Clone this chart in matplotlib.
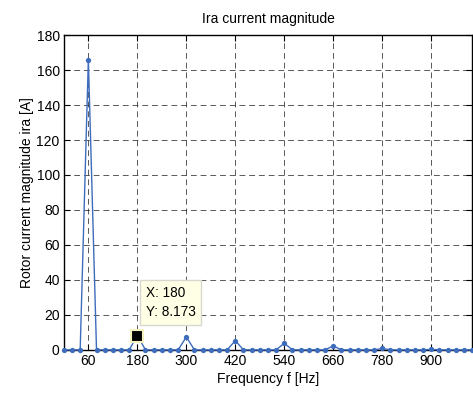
import numpy as np
import matplotlib.pyplot as plt

plt.rcParams['font.family'] = ['Liberation Sans', 'DejaVu Sans']

# FFT bins every 20 Hz, 0..1000 Hz
freq = list(range(0, 1001, 20))
harm_f = [60, 180, 300, 420, 540, 660, 780, 900]
harm_a = [166.0, 8.173, 7.4, 5.3, 3.8, 2.3, 0.8, 0.3]
mag = [0.0] * len(freq)
for f, a in zip(harm_f, harm_a):
    mag[freq.index(f)] = a

xticks = [60, 180, 300, 420, 540, 660, 780, 900]
yticks = [0, 20, 40, 60, 80, 100, 120, 140, 160, 180]
tip_x, tip_y = 180, 8.173

fig = plt.figure(figsize=(4.73, 3.94), dpi=100)
ax = fig.add_axes([0.135, 0.112, 0.863, 0.799])

ax.plot(freq, mag, color='#3d6cbd', linewidth=1.0, marker='o', markersize=3.8,
        markeredgewidth=0, zorder=3, clip_on=False)

# data cursor
ax.plot(tip_x, tip_y, marker='s', markersize=8, color='black',
        markeredgecolor='#f5f0c0', markeredgewidth=1.5, zorder=5)
ax.annotate('X: 180\nY: 8.173', xy=(tip_x, tip_y), xytext=(6, 12),
            textcoords='offset points', fontsize=9.8, va='bottom', ha='left',
            linespacing=1.45,
            bbox=dict(boxstyle='square,pad=0.42', fc='#ffffe6', ec='#d8d8d0', lw=1),
            zorder=6)

ax.set_xlim(0, 1000)
ax.set_ylim(0, 180)
ax.set_xticks(xticks)
ax.set_yticks(yticks)
ax.tick_params(direction='in', length=4, width=0.8, labelsize=10,
               top=True, right=True, pad=3)
ax.grid(True, color='#222222', linestyle=(0, (6, 4)), linewidth=0.7, alpha=0.75)
for s in ax.spines.values():
    s.set_linewidth(1.0)

ax.set_title('Ira current magnitude', fontsize=10, pad=9)
ax.set_xlabel('Frequency f [Hz]', fontsize=10, labelpad=3)
ax.set_ylabel('Rotor current magnitude ira [A]', fontsize=10, labelpad=2)

fig.savefig('out.png', dpi=100)
